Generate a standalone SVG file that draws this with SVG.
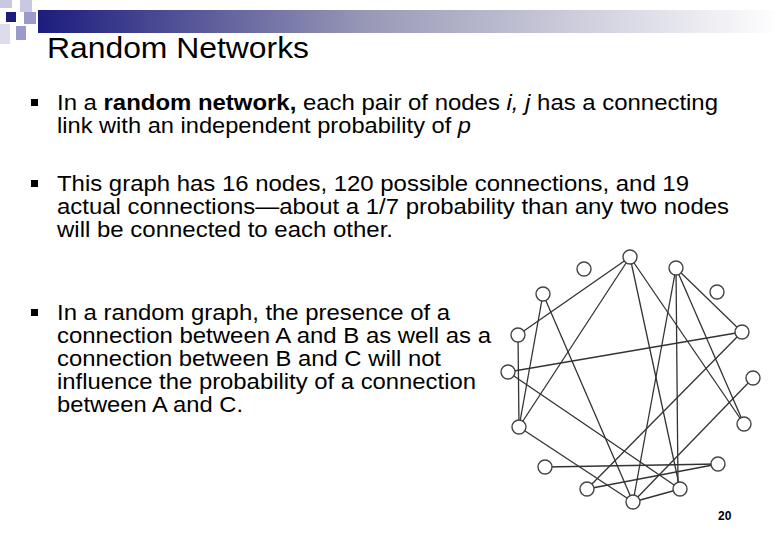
<svg xmlns="http://www.w3.org/2000/svg" width="780" height="540" viewBox="0 0 780 540">
<defs>
<linearGradient id="bar" x1="0" x2="1" y1="0" y2="0">
<stop offset="0" stop-color="#1c1c7e"/><stop offset="0.45" stop-color="#9a9ab8"/><stop offset="1" stop-color="#ffffff"/>
</linearGradient>
<style>
text{font-family:"Liberation Sans",Arial,sans-serif;fill:#000}
.b{font-size:22px}
.e line{stroke:#333;stroke-width:1.3}
.n circle{fill:#fff;stroke:#444;stroke-width:1.4}
</style>
</defs>
<rect width="780" height="540" fill="#fff"/>
<g id="decor">
<rect x="38" y="10" width="742" height="23" fill="url(#bar)"/>
<rect x="0" y="0" width="12" height="8" fill="#c8c8e0"/>
<rect x="20" y="0" width="12" height="12" fill="#c8c8e0"/>
<rect x="6" y="12" width="10" height="10" fill="#1c1c7e"/>
<rect x="24" y="12" width="12" height="12" fill="#9a9acb"/>
<rect x="0" y="24" width="10" height="20" fill="#dcdcec"/>
<rect x="16" y="26" width="10" height="14" fill="#9a9acb"/>
</g>
<text x="47" y="58" font-size="29" textLength="262" lengthAdjust="spacingAndGlyphs">Random Networks</text>
<g id="bullets" fill="#000">
<rect x="31" y="99" width="7" height="7"/>
<rect x="31" y="180" width="7" height="7"/>
<rect x="31" y="309" width="7" height="7"/>
</g>
<g class="b">
<text x="57" y="110" textLength="661" lengthAdjust="spacingAndGlyphs">In a <tspan font-weight="bold">random network,</tspan> each pair of nodes <tspan font-style="italic">i, j</tspan> has a connecting</text>
<text x="57" y="133" textLength="414" lengthAdjust="spacingAndGlyphs">link with an independent probability of <tspan font-style="italic">p</tspan></text>
<text x="57" y="191" textLength="632" lengthAdjust="spacingAndGlyphs">This graph has 16 nodes, 120 possible connections, and 19</text>
<text x="57" y="214" textLength="672" lengthAdjust="spacingAndGlyphs">actual connections—about a 1/7 probability than any two nodes</text>
<text x="57" y="237" textLength="336" lengthAdjust="spacingAndGlyphs">will be connected to each other.</text>
<text x="57" y="320" textLength="393" lengthAdjust="spacingAndGlyphs">In a random graph, the presence of a</text>
<text x="57" y="343" textLength="434" lengthAdjust="spacingAndGlyphs">connection between A and B as well as a</text>
<text x="57" y="366" textLength="384" lengthAdjust="spacingAndGlyphs">connection between B and C will not</text>
<text x="57" y="389" textLength="419" lengthAdjust="spacingAndGlyphs">influence the probability of a connection</text>
<text x="57" y="412" textLength="186" lengthAdjust="spacingAndGlyphs">between A and C.</text>
</g>
<g id="connectors" class="e">
<line x1="630" y1="257" x2="518" y2="335"/>
<line x1="630" y1="257" x2="519" y2="427"/>
<line x1="630" y1="257" x2="680" y2="489"/>
<line x1="630" y1="257" x2="744" y2="424"/>
<line x1="543" y1="294" x2="519" y2="427"/>
<line x1="543" y1="294" x2="633" y2="502"/>
<line x1="518" y1="335" x2="519" y2="427"/>
<line x1="508" y1="372" x2="742" y2="332"/>
<line x1="508" y1="372" x2="680" y2="489"/>
<line x1="519" y1="427" x2="633" y2="502"/>
<line x1="676" y1="268" x2="633" y2="502"/>
<line x1="676" y1="268" x2="678" y2="487"/>
<line x1="676" y1="268" x2="742" y2="332"/>
<line x1="676" y1="268" x2="744" y2="424"/>
<line x1="742" y1="332" x2="587" y2="489"/>
<line x1="753" y1="378" x2="633" y2="502"/>
<line x1="545" y1="467" x2="718" y2="464"/>
<line x1="587" y1="489" x2="718" y2="464"/>
<line x1="633" y1="502" x2="680" y2="489"/>
</g>
<g id="nodes" class="n">
<g id="nA"><circle cx="630" cy="257" r="7"/></g>
<g id="nB"><circle cx="584" cy="269" r="7"/></g>
<g id="nC"><circle cx="676" cy="268" r="7"/></g>
<g id="nD"><circle cx="543" cy="294" r="7"/></g>
<g id="nE"><circle cx="717" cy="292" r="7"/></g>
<g id="nF"><circle cx="518" cy="335" r="7"/></g>
<g id="nG"><circle cx="742" cy="332" r="7"/></g>
<g id="nH"><circle cx="508" cy="372" r="7"/></g>
<g id="nI"><circle cx="753" cy="378" r="7"/></g>
<g id="nJ"><circle cx="519" cy="427" r="7"/></g>
<g id="nK"><circle cx="744" cy="424" r="7"/></g>
<g id="nL"><circle cx="545" cy="467" r="7"/></g>
<g id="nM"><circle cx="718" cy="464" r="7"/></g>
<g id="nN"><circle cx="587" cy="489" r="7"/></g>
<g id="nO"><circle cx="680" cy="489" r="7"/></g>
<g id="nP"><circle cx="633" cy="502" r="7"/></g>
</g>
<text x="718" y="520" font-size="12" font-weight="bold">20</text>
</svg>
